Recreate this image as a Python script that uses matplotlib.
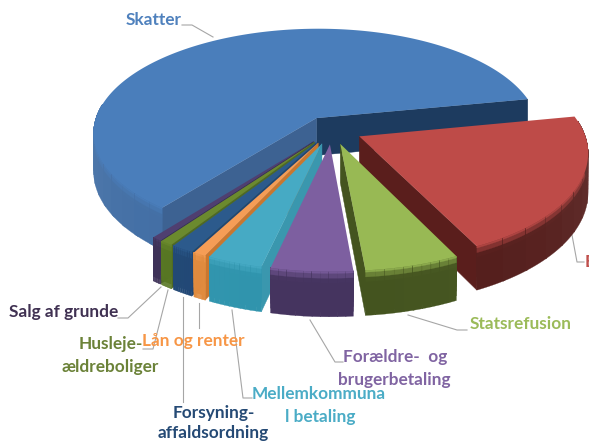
import numpy as np
import matplotlib
matplotlib.use("Agg")
import matplotlib.pyplot as plt
from matplotlib.colors import to_rgb

# share of income
labels = ["Skatter", "Bloktilskud", "Statsrefusion", "Forældre- og brugerbetaling",
          "Mellemkommunal betaling", "Lån og renter", "Forsyning-affaldsordning",
          "Husleje-ældreboliger", "Salg af grunde"]
values = [61.3, 20.8, 5.8, 5.0, 3.4, 0.8, 1.4, 0.8, 0.6]
top_colors = ["#4A7EBB", "#BE4B48", "#98B954", "#7D5FA0", "#46AAC4", "#F59D56", "#2C5A8C", "#6B8A2E", "#4F3F70"]
wall_colors = ["#1D3B5F", "#5A1E1C", "#44541F", "#45345F", "#3A97AE", "#C9772F", "#1F4674", "#4F6B22", "#3A2E55"]
rim_colors = ["#3F6CA3", "#531C1A", "#44541F", "#45345F", "#2F94AD", "#E08A3C", "#1F4674", "#55751F", "#3A2E55"]

start_angle = 11.0
explode = 0.135
cx, cy = 332, 130
rad_x, rad_y = 224, 105
persp = 0.14
depth = 38


def project(x, y, z=0.0):
    w = 1 + persp * y
    return cx + rad_x * x / w, cy - rad_y * y / w + depth * z / w


def blend(a, b, f):
    a, b = np.array(to_rgb(a)), np.array(to_rgb(b))
    return tuple(a + (b - a) * f)


def draw_slice(ax, t0, t1, top, wall, rim, zbase):
    mid = (t0 + t1) / 2
    ox, oy = explode * np.cos(mid), explode * np.sin(mid)
    ts = np.linspace(t0, t1, 160)
    ts = ts[np.sin(ts) < 0.15]

    # radial walls that face the viewer
    for t, show in ((t0, np.cos(t0) > 0), (t1, np.cos(t1) < 0)):
        if show:
            ex, ey = ox + np.cos(t), oy + np.sin(t)
            p = [project(ox, oy), project(ex, ey), project(ex, ey, 1), project(ox, oy, 1)]
            col = wall
            if t == t1 and top == top_colors[0]:
                col = "#3D6292"
            ax.fill(*zip(*p), color=col, lw=0.3, zorder=zbase)

    # outer rim: overlapping columns, bottom up, so the edge fades into the side
    if len(ts) > 1:
        step = max(1, len(ts) // 10)
        for j in range(0, len(ts) - 1, step):
            seg = ts[j:j + step + 2]
            sx, sy = ox + np.cos(seg), oy + np.sin(seg)
            side = blend(rim, "#FFFFFF", 0.10 * (1 - abs(np.sin(seg.mean()))))
            for z in np.linspace(1, 0.04, 10):
                f = min(1, z / 0.26)
                col = blend(top, side, f)
                ax_, ay_ = project(sx, sy, z)
                bx_, by_ = project(sx, sy, 0)
                ax.fill(np.r_[ax_, bx_[::-1]], np.r_[ay_, by_[::-1]], color=col, lw=0.2, zorder=zbase + 1)

    # top face
    ts_all = np.linspace(t0, t1, 200)
    px, py = project(np.r_[ox, ox + np.cos(ts_all)], np.r_[oy, oy + np.sin(ts_all)])
    ax.fill(px, py, color=top, lw=0, zorder=zbase + 2)


fig = plt.figure(figsize=(5.89, 4.41), dpi=100)
ax = fig.add_axes([0, 0, 1, 1])
ax.set_xlim(0, 589)
ax.set_ylim(441, 0)
ax.axis("off")

plt.rcParams["font.family"] = ["Lato", "DejaVu Sans"]

# Skatter runs counter-clockwise from the start angle, the rest clockwise from it
spans = np.array(values) / sum(values) * 2 * np.pi
t0s, t1s = [np.radians(start_angle)], [np.radians(start_angle) + spans[0]]
t = np.radians(start_angle)
for s in spans[1:]:
    t0s.append(t - s)
    t1s.append(t)
    t -= s
mids = (np.array(t0s) + np.array(t1s)) / 2
order = np.argsort(-np.sin(mids))
for n, i in enumerate(order):
    draw_slice(ax, t0s[i], t1s[i], top_colors[i], wall_colors[i], rim_colors[i], 10 + n * 4)

line = dict(color="#A6A6A6", lw=0.8, zorder=5)
leaders = [
    ([182, 192, 213], [25, 25, 37]),
    ([572, 577, 584], [235, 262, 262]),
    ([408, 457, 467], [315, 330, 330]),
    ([310, 335, 343], [320, 362, 362]),
    ([232, 243, 252], [310, 398, 398]),
    ([199, 199], [303, 328]),
    ([183, 183], [297, 402]),
    ([168, 153, 143], [290, 349, 349]),
    ([161, 128, 118], [287, 318, 318]),
]
for xs, ys in leaders:
    ax.plot(xs, ys, **line)

texts = [
    (126, 20, "Skatter", "#4F81BD"),
    (585, 262, "Bloktilskud", "#C0504D"),
    (470, 324, "Statsrefusion", "#9BBB59"),
    (343, 357, "Forældre-  og", "#8064A2"),
    (338, 380, "brugerbetaling", "#8064A2"),
    (252, 394, "Mellemkommuna", "#4BACC6"),
    (285, 417, "l betaling", "#4BACC6"),
    (173, 413, "Forsyning-", "#254A75"),
    (158, 433, "affaldsordning", "#254A75"),
    (142, 341, "Lån og renter", "#F79646"),
    (79, 344, "Husleje-", "#6B8238"),
    (62, 367, "ældreboliger", "#6B8238"),
    (9, 312, "Salg af grunde", "#403152"),
]
for x, y, s, c in texts:
    ax.text(x, y, s, color=c, ha="left", va="center", fontsize=12.4, fontweight="bold", zorder=100)

fig.savefig("out.png", dpi=100)
